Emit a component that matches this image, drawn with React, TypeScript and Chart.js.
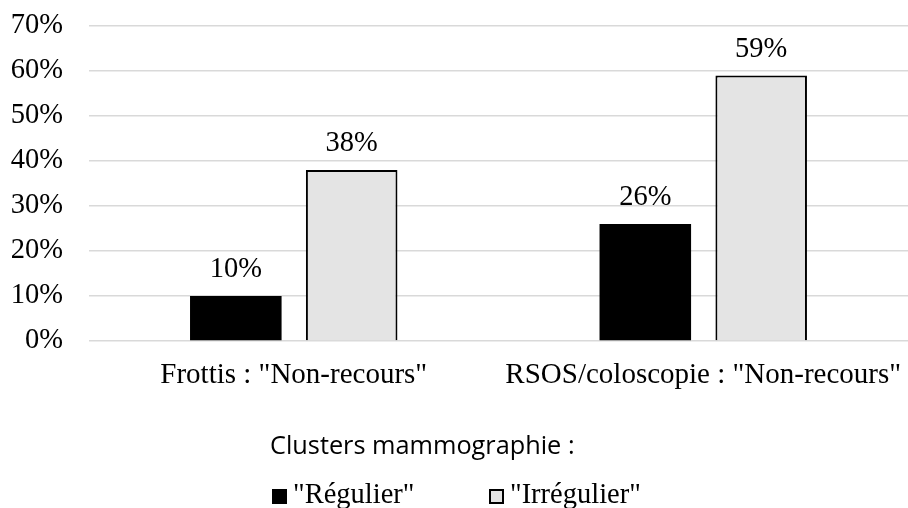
import React, { useEffect, useRef } from "react";
import { Chart, registerables } from "chart.js";

Chart.register(...registerables);

const categories = ['Frottis : "Non-recours"', 'RSOS/coloscopie : "Non-recours"'];
const seriesNames = ['"Régulier"', '"Irrégulier"'];
const regulier = [10, 26];
const irregulier = [38, 59];
const legendTitle = "Clusters mammographie :";
const yMax = 70;
const yStep = 10;

const SERIF = "'Liberation Serif', 'Times New Roman', serif";
const SANS = "'Open Sans', 'Noto Sans', sans-serif";
const SERIF_SIZE = 28.5;

const valueLabels = {
  id: "valueLabels",
  afterDatasetsDraw(chart: any) {
    const ctx = chart.ctx;
    ctx.save();
    ctx.font = `${SERIF_SIZE}px ${SERIF}`;
    ctx.fillStyle = "#000";
    ctx.textAlign = "center";
    ctx.textBaseline = "alphabetic";
    chart.data.datasets.forEach((ds: any, i: number) => {
      const meta = chart.getDatasetMeta(i);
      meta.data.forEach((bar: any, j: number) => {
        ctx.fillText(ds.data[j] + "%", bar.x, bar.y - 19);
      });
    });
    ctx.restore();
  },
};

const customLegend = {
  id: "customLegend",
  afterDraw(chart: any) {
    const ctx = chart.ctx;
    ctx.save();
    ctx.fillStyle = "#000";
    ctx.font = `25.3px ${SANS}`;
    ctx.textAlign = "left";
    ctx.textBaseline = "alphabetic";
    ctx.fillText(legendTitle, 270, 454);
    const items = [
      { x: 272, ds: chart.data.datasets[0] },
      { x: 489, ds: chart.data.datasets[1] },
    ];
    ctx.font = `${SERIF_SIZE}px ${SERIF}`;
    items.forEach((it) => {
      ctx.fillStyle = it.ds.backgroundColor;
      ctx.fillRect(it.x, 489, 14, 14);
      ctx.strokeStyle = "#000";
      ctx.lineWidth = 2;
      ctx.strokeRect(it.x + 1, 490, 13, 13);
      ctx.fillStyle = "#000";
      ctx.fillText(it.ds.label, it.x + 21, 503);
    });
    ctx.restore();
  },
};

export default function App() {
  const ref = useRef<HTMLCanvasElement>(null);
  useEffect(() => {
    document.body.style.margin = "0";
    const chart = new Chart(ref.current!, {
      type: "bar",
      data: {
        labels: categories,
        datasets: [
          {
            label: seriesNames[0],
            data: regulier,
            backgroundColor: "#000000",
            borderColor: "#000000",
            borderWidth: 0,
            categoryPercentage: 0.566,
            barPercentage: 0.79,
          },
          {
            label: seriesNames[1],
            data: irregulier,
            backgroundColor: "#e4e4e4",
            borderColor: "#000000",
            borderWidth: 2,
            categoryPercentage: 0.566,
            barPercentage: 0.79,
          },
        ],
      },
      options: {
        animation: false,
        responsive: false,
        layout: { padding: { top: 26, left: 0, right: 0, bottom: 0 } },
        plugins: {
          legend: { display: false },
          tooltip: { enabled: false },
        },
        scales: {
          x: {
            grid: { display: false },
            border: { display: false },
            ticks: {
              color: "#000",
              font: { family: SERIF, size: 29 },
              padding: 9,
              maxRotation: 0,
            },
            afterFit: (s: any) => {
              s.height = 167;
              s.paddingLeft = 0;
              s.paddingRight = 0;
            },
          },
          y: {
            min: 0,
            max: yMax,
            ticks: {
              stepSize: yStep,
              color: "#000",
              font: { family: SERIF, size: SERIF_SIZE },
              padding: 26,
              callback: (v: any) => v + "%",
            },
            grid: { color: "#d9d9d9", lineWidth: 1.5, drawTicks: false },
            border: { display: false },
            afterFit: (s: any) => {
              s.width = 89;
              s.paddingTop = 0;
              s.paddingBottom = 0;
            },
          },
        },
      },
      plugins: [valueLabels, customLegend],
    });
    return () => chart.destroy();
  }, []);
  return <canvas ref={ref} width={908} height={508} style={{ display: "block" }} />;
}
